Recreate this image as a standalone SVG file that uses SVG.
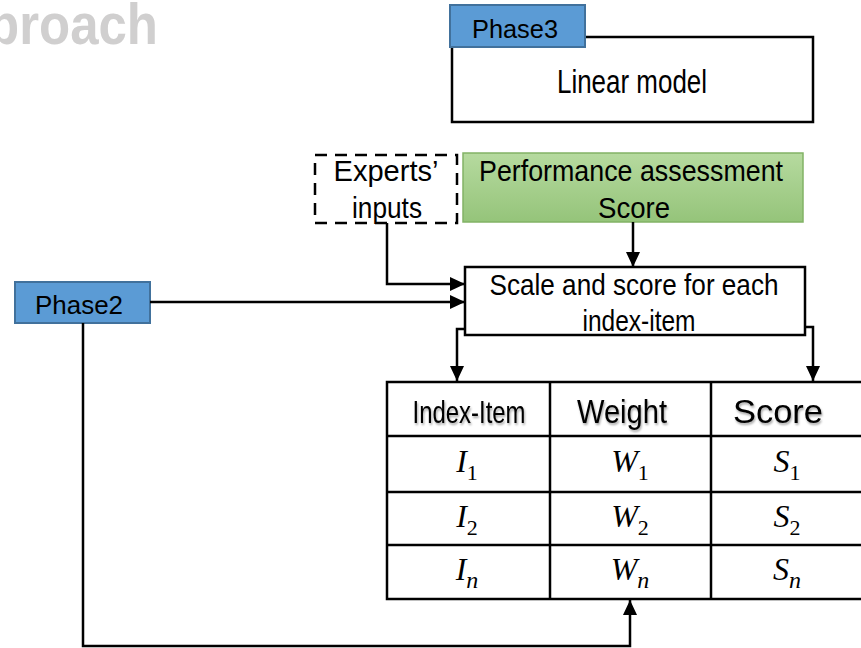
<svg xmlns="http://www.w3.org/2000/svg" width="861" height="648" viewBox="0 0 861 648">
<style>
.t{font-family:"Liberation Sans",Arial,sans-serif;fill:#000;}
.box{fill:#fff;stroke:#000;stroke-width:2.5;}
.blue{fill:#5b9bd5;stroke:#41719c;stroke-width:2;}
.ln{fill:none;stroke:#000;stroke-width:2.5;}
.m{font-family:"Liberation Serif","Times New Roman",serif;font-style:italic;font-size:32px;fill:#000;}
.s{font-family:"Liberation Serif","Times New Roman",serif;font-size:22px;font-style:normal;}
.si{font-family:"Liberation Serif","Times New Roman",serif;font-size:24px;font-style:italic;}
</style>
<defs>
<marker id="ah" markerUnits="userSpaceOnUse" markerWidth="16" markerHeight="14" refX="15" refY="7" orient="auto">
<path d="M0,0 L15,7 L0,14 Z" fill="#000"/>
</marker>
<linearGradient id="g" x1="0" y1="0" x2="0" y2="1">
<stop offset="0" stop-color="#b6da9f"/>
<stop offset="1" stop-color="#95c47a"/>
</linearGradient>
<filter id="sh" x="-10%" y="-30%" width="130%" height="170%">
<feDropShadow dx="1" dy="2" stdDeviation="1" flood-color="#000" flood-opacity="0.35"/>
</filter>
</defs>

<text class="t" x="-12" y="44" font-size="58" font-weight="bold" style="fill:#d0cfcf" textLength="170" lengthAdjust="spacingAndGlyphs">proach</text>

<g id="phase3">
<rect class="box" x="452" y="37" width="361" height="85"/>
<rect class="blue" x="450" y="5" width="135" height="42"/>
<text class="t" x="515" y="38" font-size="26" text-anchor="middle" textLength="86" lengthAdjust="spacingAndGlyphs">Phase3</text>
<text class="t" x="632" y="93" font-size="33" text-anchor="middle" textLength="150" lengthAdjust="spacingAndGlyphs">Linear model</text>
</g>

<g id="experts">
<rect x="315" y="155" width="142" height="68" fill="#fff" stroke="#000" stroke-width="2.5" stroke-dasharray="12,8"/>
<text class="t" x="386" y="181" font-size="30" text-anchor="middle" textLength="105" lengthAdjust="spacingAndGlyphs">Experts’</text>
<text class="t" x="387" y="218" font-size="30" text-anchor="middle" textLength="70" lengthAdjust="spacingAndGlyphs">inputs</text>
</g>

<g id="performance">
<rect x="463" y="153" width="340" height="69" fill="url(#g)" stroke="#82b366" stroke-width="1.5"/>
<text class="t" x="631" y="181" font-size="30" text-anchor="middle" textLength="304" lengthAdjust="spacingAndGlyphs">Performance assessment</text>
<text class="t" x="634" y="218" font-size="30" text-anchor="middle" textLength="72" lengthAdjust="spacingAndGlyphs">Score</text>
</g>

<g id="phase2">
<rect class="blue" x="15" y="282" width="135" height="41"/>
<text class="t" x="79" y="314" font-size="26" text-anchor="middle" textLength="88" lengthAdjust="spacingAndGlyphs">Phase2</text>
</g>

<g id="scale">
<rect class="box" x="465" y="267" width="340" height="68"/>
<text class="t" x="634" y="295" font-size="30" text-anchor="middle" textLength="289" lengthAdjust="spacingAndGlyphs">Scale and score for each</text>
<text class="t" x="639" y="331" font-size="30" text-anchor="middle" textLength="113" lengthAdjust="spacingAndGlyphs">index-item</text>
</g>

<g id="table">
<rect x="387" y="382" width="480" height="217" fill="#fff" stroke="#000" stroke-width="2.5"/>
<line class="ln" x1="387" y1="436" x2="867" y2="436"/>
<line class="ln" x1="387" y1="492" x2="867" y2="492"/>
<line class="ln" x1="387" y1="545" x2="867" y2="545"/>
<line class="ln" x1="550" y1="382" x2="550" y2="599"/>
<line class="ln" x1="711" y1="382" x2="711" y2="599"/>
<g filter="url(#sh)">
<text class="t" x="469" y="423" font-size="32" text-anchor="middle" textLength="113" lengthAdjust="spacingAndGlyphs">Index-Item</text>
<text class="t" x="622" y="423" font-size="33" text-anchor="middle" textLength="90" lengthAdjust="spacingAndGlyphs">Weight</text>
<text class="t" x="778" y="423" font-size="33" text-anchor="middle" textLength="90" lengthAdjust="spacingAndGlyphs">Score</text>
</g>
<text class="m" x="467" y="472" text-anchor="middle">I<tspan class="s" dy="8">1</tspan></text>
<text class="m" x="630" y="472" text-anchor="middle">W<tspan class="s" dy="8">1</tspan></text>
<text class="m" x="787" y="472" text-anchor="middle">S<tspan class="s" dy="8">1</tspan></text>
<text class="m" x="467" y="527" text-anchor="middle">I<tspan class="s" dy="8">2</tspan></text>
<text class="m" x="630" y="527" text-anchor="middle">W<tspan class="s" dy="8">2</tspan></text>
<text class="m" x="787" y="527" text-anchor="middle">S<tspan class="s" dy="8">2</tspan></text>
<text class="m" x="467" y="580" text-anchor="middle">I<tspan class="si" dy="8">n</tspan></text>
<text class="m" x="630" y="580" text-anchor="middle">W<tspan class="si" dy="8">n</tspan></text>
<text class="m" x="787" y="580" text-anchor="middle">S<tspan class="si" dy="8">n</tspan></text>
</g>

<g id="connectors">
<path class="ln" d="M633,222 L633,267" marker-end="url(#ah)"/>
<path class="ln" d="M387,223 L387,284 L465,284" marker-end="url(#ah)"/>
<path class="ln" d="M150,302 L465,302" marker-end="url(#ah)"/>
<path class="ln" d="M465,329 L457,329 L457,381" marker-end="url(#ah)"/>
<path class="ln" d="M805,327 L813,327 L813,381" marker-end="url(#ah)"/>
<path class="ln" d="M83,323 L83,646 L630,646 L630,600" marker-end="url(#ah)"/>
</g>
</svg>
